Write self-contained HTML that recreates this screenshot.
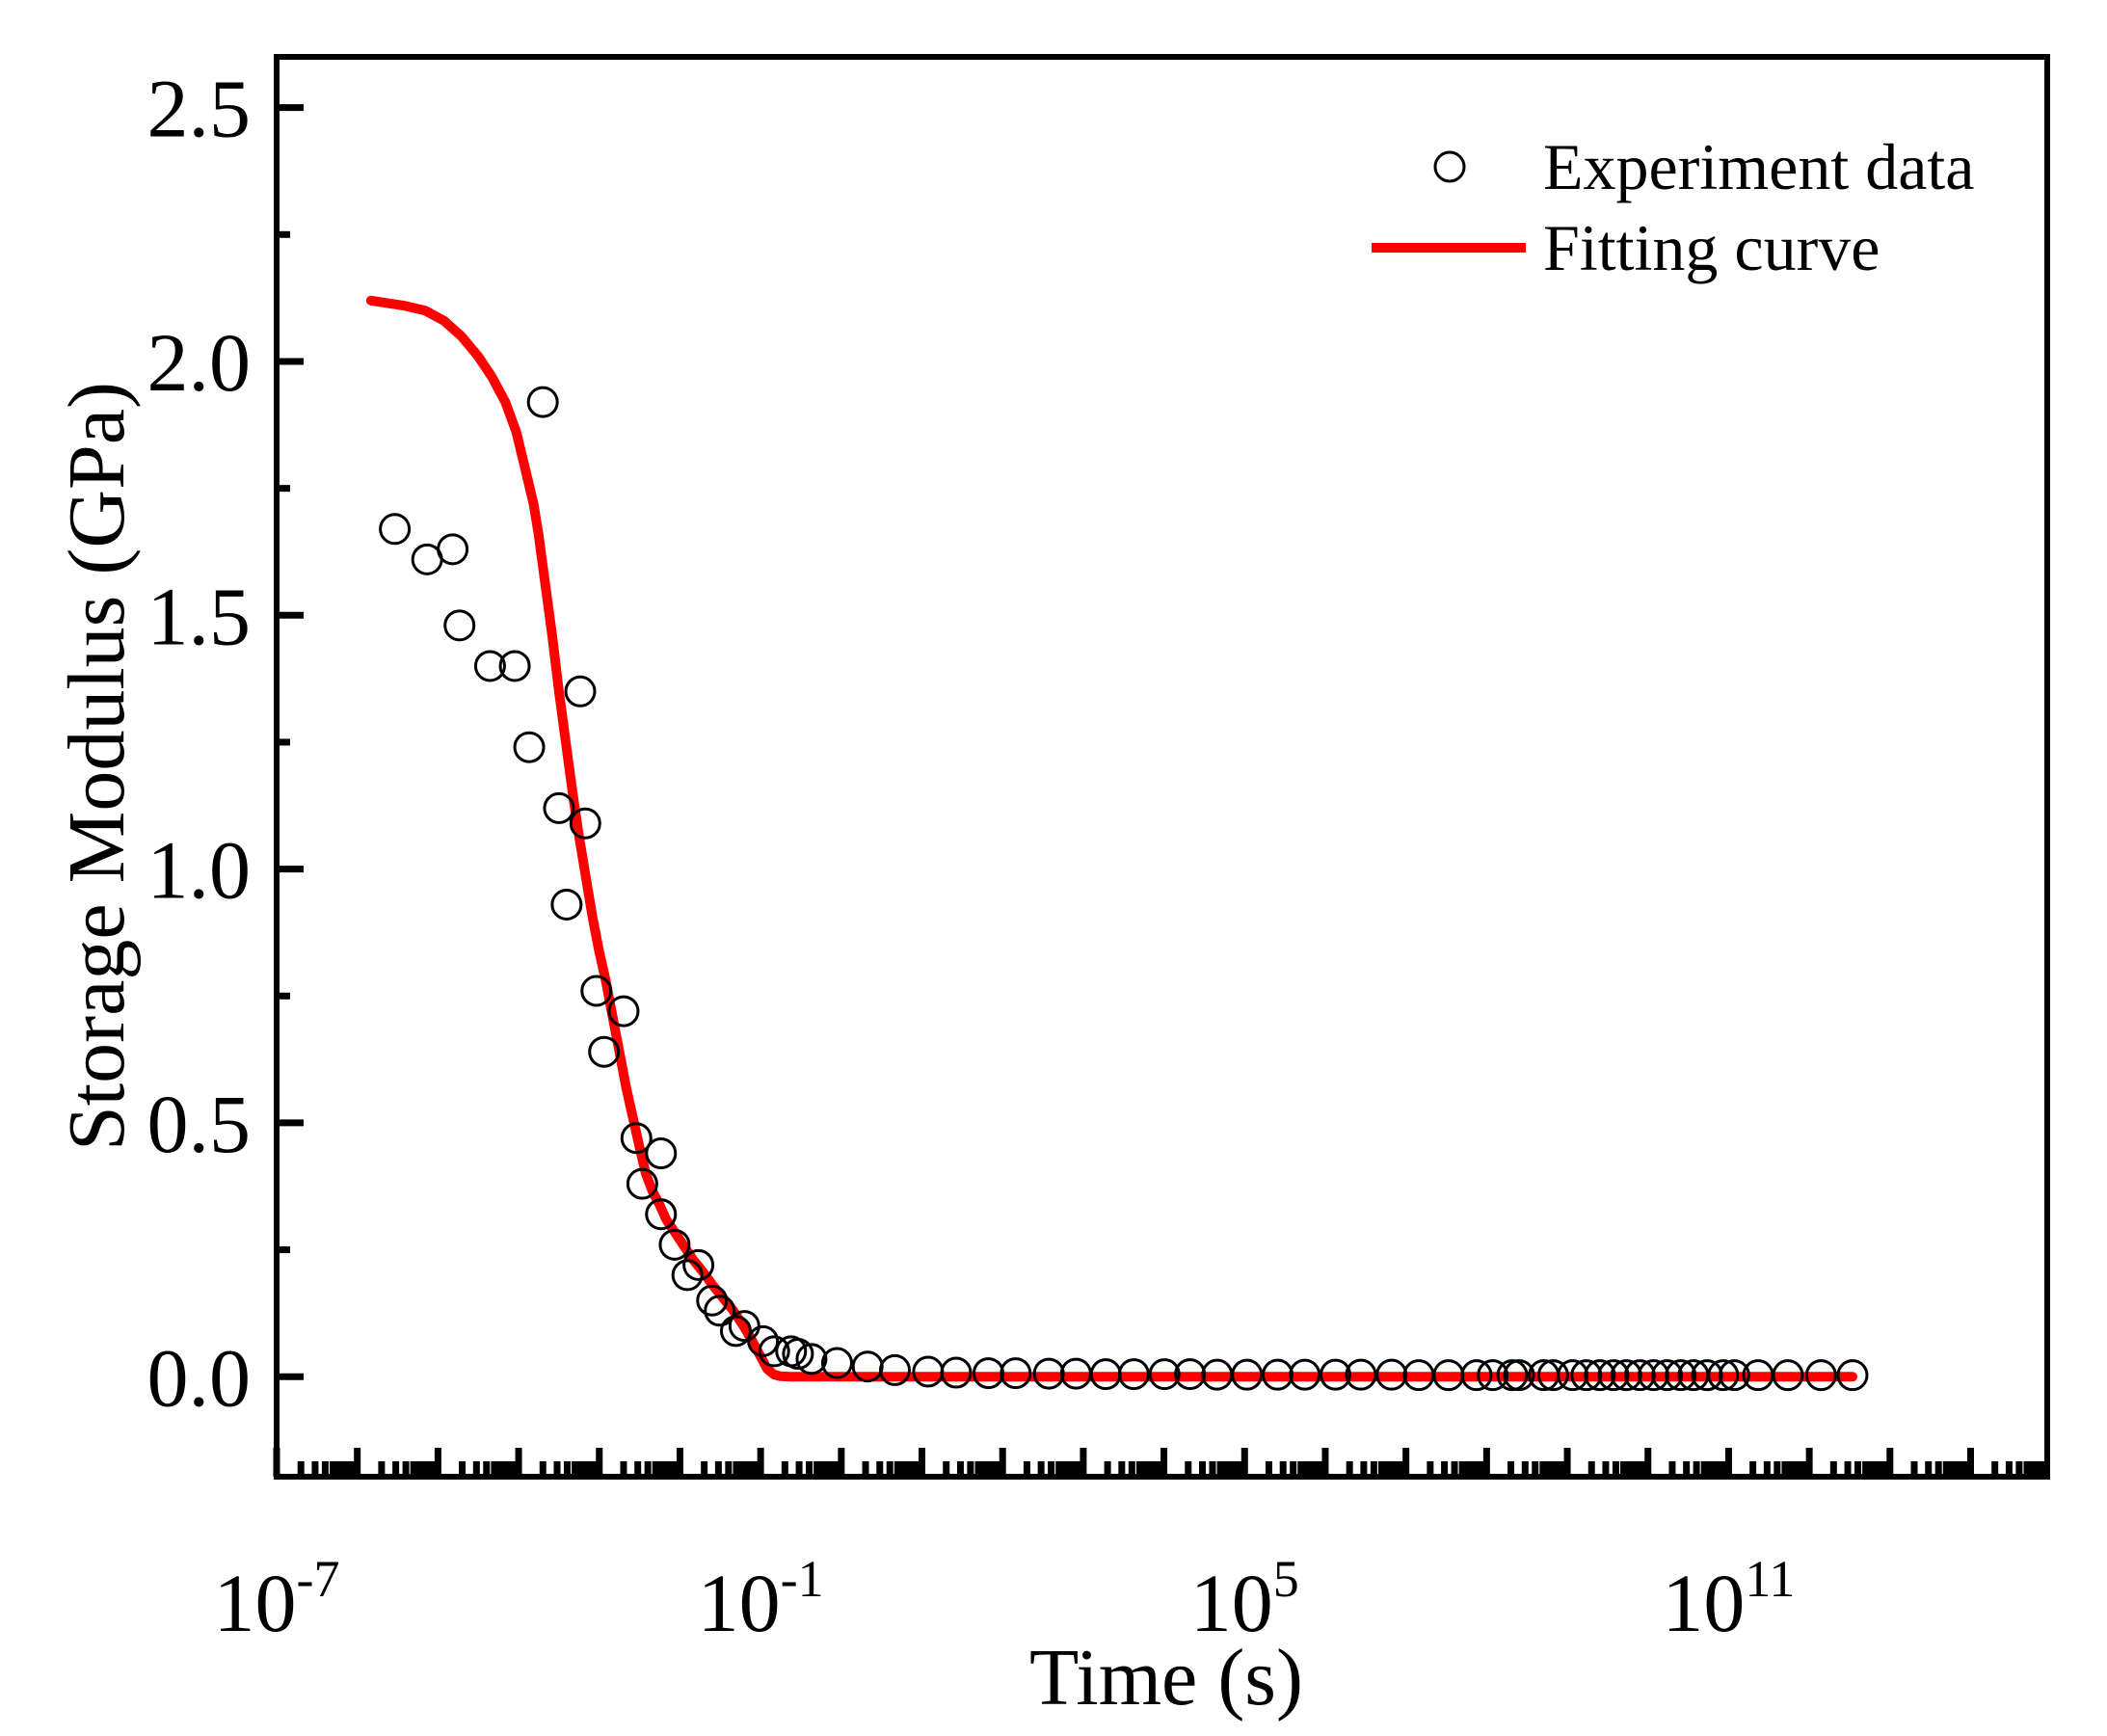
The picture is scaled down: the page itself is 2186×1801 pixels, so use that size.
<!DOCTYPE html>
<html><head><meta charset="utf-8"><style>
html,body{margin:0;padding:0;background:#fff;}
svg{display:block;font-family:"Liberation Serif",serif;}
</style></head><body>
<svg id="chart" width="2186" height="1801" viewBox="0 0 2186 1801">
<rect x="0" y="0" width="2186" height="1801" fill="#fff"/>
<g id="plot"></g>
</svg>
<script>
const expLogX=[-5.535,-5.134,-4.818,-4.733,-4.354,-4.048,-3.869,-3.700,-3.500,-3.405,-3.236,-3.173,-3.036,-2.941,-2.699,-2.540,-2.467,-2.235,-2.235,-2.066,-1.908,-1.771,-1.602,-1.507,-1.307,-1.201,-0.970,-0.832,-0.622,-0.537,-0.369,-0.052,0.327,0.665,1.076,1.424,1.824,2.162,2.573,2.910,3.279,3.627,4.007,4.323,4.660,5.029,5.409,5.746,6.126,6.442,6.822,7.159,7.528,7.876,8.076,8.319,8.403,8.709,8.825,9.067,9.236,9.405,9.573,9.732,9.900,10.069,10.238,10.406,10.564,10.733,10.933,11.071,11.366,11.735,12.146,12.536];
const expVal=[1.67,1.61,1.63,1.48,1.40,1.40,1.24,1.92,1.12,0.93,1.35,1.09,0.76,0.64,0.72,0.47,0.38,0.44,0.32,0.26,0.20,0.22,0.15,0.13,0.09,0.10,0.07,0.05,0.05,0.045,0.035,0.027,0.02,0.013,0.01,0.008,0.007,0.007,0.006,0.006,0.005,0.005,0.005,0.005,0.004,0.004,0.004,0.004,0.004,0.004,0.004,0.003,0.003,0.003,0.003,0.003,0.003,0.003,0.003,0.003,0.003,0.003,0.003,0.003,0.003,0.003,0.003,0.003,0.003,0.003,0.003,0.003,0.003,0.003,0.003,0.003];
const fitLogX=[-5.830,-5.630,-5.419,-5.155,-4.923,-4.712,-4.501,-4.333,-4.164,-4.027,-3.921,-3.816,-3.753,-3.669,-3.584,-3.500,-3.415,-3.331,-3.257,-3.173,-3.089,-3.004,-2.920,-2.836,-2.751,-2.667,-2.583,-2.498,-2.424,-2.340,-2.256,-2.171,-2.087,-1.961,-1.834,-1.708,-1.592,-1.465,-1.339,-1.212,-1.085,-1.001,-0.917,-0.832,-0.759,-0.622,12.536];
const fitVal=[2.12,2.115,2.11,2.10,2.08,2.05,2.01,1.97,1.92,1.86,1.79,1.72,1.66,1.56,1.46,1.35,1.25,1.15,1.07,0.99,0.91,0.84,0.78,0.71,0.64,0.57,0.51,0.45,0.40,0.365,0.34,0.31,0.29,0.26,0.23,0.205,0.18,0.155,0.13,0.10,0.065,0.04,0.015,0.004,0.001,0,0];
const yTickLabels=["0.0","0.5","1.0","1.5","2.0","2.5"];
const yTickVals=[0,0.5,1.0,1.5,2.0,2.5];
const xTickExp=[-7,-1,5,11];

const L=287,R=2124,T=59,B=1532;
const xMin=-7,xMax=14.95,yMin=-0.197,yMax=2.60;
const sx=v=>L+(v-xMin)/(xMax-xMin)*(R-L);
const sy=v=>B-(v-yMin)/(yMax-yMin)*(B-T);
const NS="http://www.w3.org/2000/svg";
const g=document.getElementById('plot');
function mk(tag,attrs,parent){const e=document.createElementNS(NS,tag);for(const k in attrs)e.setAttribute(k,attrs[k]);(parent||g).appendChild(e);return e;}

for(let d=-7;d<=15;d++){
  for(let m=1;m<=9;m++){
    const lx=d+Math.log10(m); if(lx>xMax) break;
    const x=sx(lx), len=m===1?30:16;
    const t=mk('line',{x1:x,y1:B,x2:x,y2:B-len,stroke:'#000','stroke-width':7});
    
    
  }
}
for(let v=0;v<=2.6;v+=0.25){
  const y=sy(v), maj=Math.abs(v*2-Math.round(v*2))<1e-6;
  const t=mk('line',{x1:L,y1:y,x2:L+(maj?28:14),y2:y,stroke:'#000','stroke-width':7});
  
  
}
yTickVals.forEach((v,i)=>{
  const t=mk('text',{x:260,y:sy(v)+30,'text-anchor':'end','font-size':86});
  t.textContent=yTickLabels[i];
  
  
});
xTickExp.forEach(e=>{
  const t=mk('text',{x:sx(e),y:1692,'text-anchor':'middle','font-size':86});
  
  
  t.appendChild(document.createTextNode('10'));
  const s=document.createElementNS(NS,'tspan');s.setAttribute('dy',-36);s.setAttribute('font-size',54);s.textContent=String(e);t.appendChild(s);
});
const fr=mk('rect',{x:L,y:T,width:R-L,height:B-T,fill:'none',stroke:'#000','stroke-width':6});


const pts=fitLogX.map((x,i)=>sx(x).toFixed(1)+','+sy(fitVal[i]).toFixed(1)).join(' ');
const pl=mk('polyline',{points:pts,fill:'none',stroke:'#f00','stroke-width':10,'stroke-linejoin':'round','stroke-linecap':'round'});


expLogX.forEach((x,i)=>{
  const c=mk('circle',{cx:sx(x),cy:sy(expVal[i]),r:15,fill:'none',stroke:'#000','stroke-width':3});
  
  
});
const lc=mk('circle',{cx:1504,cy:173,r:15,fill:'none',stroke:'#000','stroke-width':3});


const lt1=mk('text',{x:1601,y:196,'font-size':68});lt1.textContent='Experiment data';


const ll=mk('line',{x1:1423,y1:257,x2:1583,y2:257,stroke:'#f00','stroke-width':10});


const lt2=mk('text',{x:1601,y:280,'font-size':68});lt2.textContent='Fitting curve';


const xt=mk('text',{x:1210,y:1768,'text-anchor':'middle','font-size':84});xt.textContent='Time (s)';


const yt=mk('text',{x:0,y:0,'text-anchor':'middle','font-size':84,transform:'translate(128,795) rotate(-90)'});yt.textContent='Storage Modulus (GPa)';


</script>
</body></html>
